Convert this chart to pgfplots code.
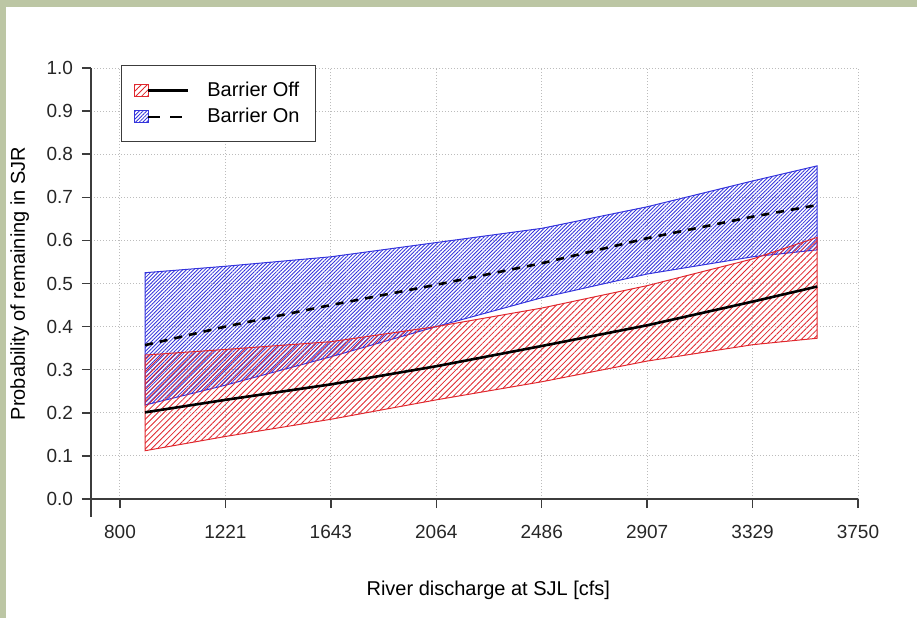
\documentclass[border=0pt]{standalone}
\usepackage{fontspec}
\setmainfont{Liberation Sans}
\usepackage{pgfplots}
\usepackage{pgfplotstable}
\pgfplotsset{compat=1.18}
\usepgfplotslibrary{fillbetween}
\usetikzlibrary{patterns.meta}

\definecolor{frame}{HTML}{BCC6A4}
\definecolor{offred}{HTML}{E0282E}
\definecolor{onblue}{HTML}{3434DC}
\definecolor{gridgray}{HTML}{BCBCBC}
\definecolor{axisgray}{HTML}{3C3C3C}

% barrier off: lower bound, mean, upper bound
\pgfplotstableread{
x     lo     mean   hi
900   0.112  0.201  0.334
1221  0.145  0.230  0.347
1643  0.185  0.266  0.365
2064  0.230  0.308  0.400
2486  0.272  0.355  0.443
2907  0.320  0.403  0.495
3329  0.358  0.458  0.557
3587  0.373  0.493  0.607
}\offtable

% barrier on
\pgfplotstableread{
x     lo     mean   hi
900   0.218  0.357  0.525
1221  0.264  0.400  0.540
1643  0.330  0.450  0.562
2064  0.400  0.497  0.595
2486  0.467  0.547  0.628
2907  0.522  0.605  0.678
3329  0.562  0.655  0.738
3587  0.578  0.682  0.773
}\ontable

\tikzset{
  offfill/.style={pattern={Lines[angle=45,distance=2.1pt,line width=0.42pt]}, pattern color=offred},
  onfill/.style={pattern={Lines[angle=45,distance=1.3pt,line width=0.42pt]}, pattern color=onblue},
}

\begin{document}
\begin{tikzpicture}
\fill[frame] (0pt,305.5pt) rectangle (458.5pt,309pt);
\fill[frame] (0pt,0pt) rectangle (3pt,309pt);

\begin{axis}[
  at={(45.5pt,59.5pt)}, anchor=south west,
  scale only axis, width=383.5pt, height=215.5pt,
  xmin=684.1, xmax=3750, ymin=0, ymax=1,
  set layers, clip=false,
  axis lines=left, axis line style={-, draw=axisgray, line width=0.75pt},
  tick align=outside, major tick length=4.5pt,
  tick style={axisgray, line width=0.75pt},
  xtick={800,1221.43,1642.86,2064.29,2485.71,2907.14,3328.57,3750},
  xticklabels={800,1221,1643,2064,2486,2907,3329,3750},
  ytick={0,0.1,0.2,0.3,0.4,0.5,0.6,0.7,0.8,0.9,1},
  yticklabels={0.0,0.1,0.2,0.3,0.4,0.5,0.6,0.7,0.8,0.9,1.0},
  grid=major,
  grid style={gridgray, line width=0.5pt, dash pattern=on 0.6pt off 0.9pt},
  ticklabel style={font=\fontsize{9.5}{11}\selectfont, text=black!85},
  xticklabel style={yshift=-5pt},
  yticklabel style={xshift=-1pt},
  xlabel={River discharge at SJL [cfs]},
  ylabel={Probability of remaining in SJR},
  label style={font=\fontsize{10}{12}\selectfont},
  xlabel style={at={(axis description cs:0.518,-0.211)}, anchor=center},
  ylabel style={at={(axis description cs:-0.093,0.5)}, anchor=center},
  legend style={at={(axis description cs:0.039,1.007)}, anchor=north west,
    draw=axisgray, line width=0.6pt, font=\fontsize{10}{12}\selectfont,
    inner xsep=6pt, inner ysep=6pt, row sep=0.5pt,
    /tikz/every odd column/.append style={column sep=7pt}},
  legend cell align=left,
]

% bands
\addplot[name path=onlo, draw=none, forget plot] table[x=x,y=lo]{\ontable};
\addplot[name path=onhi, draw=none, forget plot] table[x=x,y=hi]{\ontable};
\addplot[name path=offlo, draw=none, forget plot] table[x=x,y=lo]{\offtable};
\addplot[name path=offhi, draw=none, forget plot] table[x=x,y=hi]{\offtable};
\addplot[onfill, draw=onblue, line width=0.5pt, forget plot] fill between[of=onlo and onhi];
\addplot[offfill, draw=offred, line width=0.5pt, forget plot] fill between[of=offlo and offhi];

% means
\addplot[black, line width=1.3pt, forget plot] table[x=x,y=mean]{\offtable};
\addplot[black, line width=1.3pt, dash pattern=on 4pt off 3.5pt, forget plot] table[x=x,y=mean]{\ontable};

% extend the axis lines past the corner
\draw[axisgray, line width=0.75pt] (axis cs:648,0) -- (axis cs:684.1,0);
\draw[axisgray, line width=0.75pt] (axis cs:684.1,0) -- (axis cs:684.1,-0.041);

\addlegendimage{legend image code/.code={
  \draw[offfill, draw=offred, line width=0.5pt] (0pt,-3pt) rectangle (7pt,3pt);
  \draw[black, line width=1.3pt] (7pt,0pt) -- (27pt,0pt);}}
\addlegendentry{Barrier Off}
\addlegendimage{legend image code/.code={
  \draw[onfill, draw=onblue, line width=0.5pt] (0pt,-3pt) rectangle (7pt,3pt);
  \draw[black, line width=1.3pt, dash pattern=on 6pt off 5pt] (7pt,0pt) -- (27pt,0pt);}}
\addlegendentry{Barrier On}
\end{axis}
\pgfresetboundingbox
\path[use as bounding box] (0pt,0pt) rectangle (458.5pt,309pt);
\end{tikzpicture}
\end{document}
